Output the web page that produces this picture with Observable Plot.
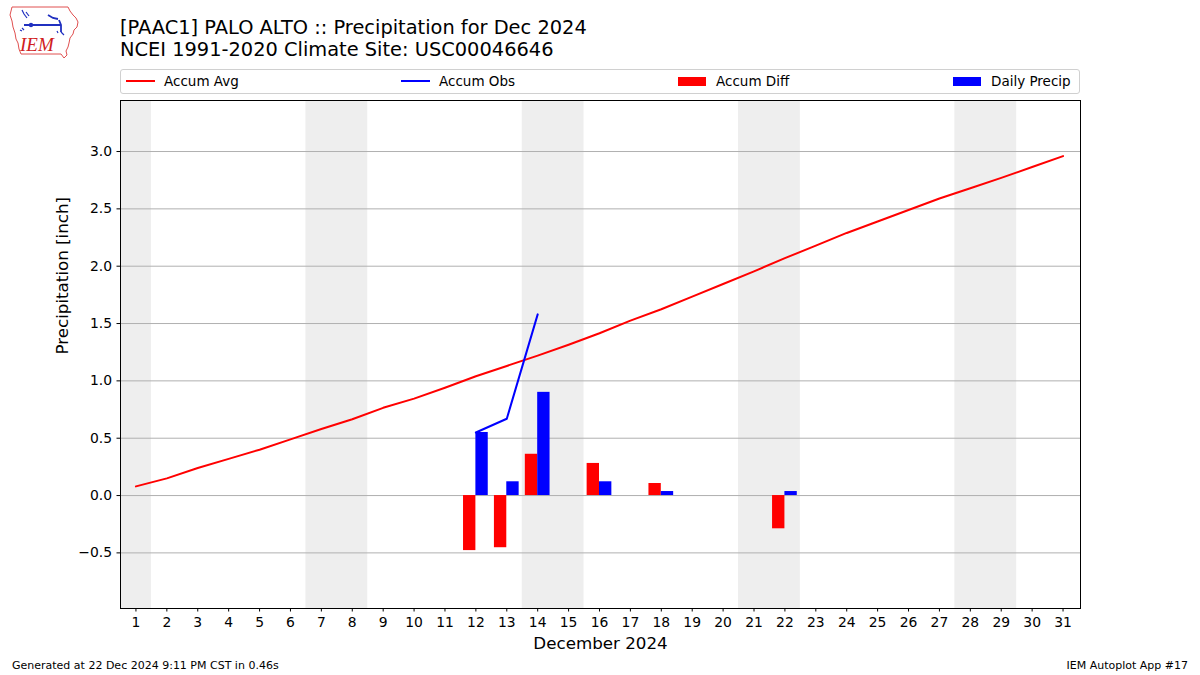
<!DOCTYPE html>
<html>
<head>
<meta charset="utf-8">
<script src="https://cdn.jsdelivr.net/npm/d3@7"></script>
<script src="https://cdn.jsdelivr.net/npm/@observablehq/plot@0.6"></script>
<style>
  html, body { margin: 0; padding: 0; background: #fff; }
  #wrap { position: relative; width: 1200px; height: 675px; overflow: hidden; font-family: "DejaVu Sans", sans-serif; color: #000; }
  #chart { position: absolute; left: 0; top: 0; }
  .title { position: absolute; left: 120px; top: 17px; font-size: 19.4px; line-height: 22px; white-space: nowrap; }
  #legend { position: absolute; left: 120px; top: 69px; width: 960px; height: 25px; border: 1px solid #d0d0d0; border-radius: 3px; font-size: 13.5px; box-sizing: border-box; }
  .li { position: absolute; top: 3px; white-space: nowrap; line-height: 16px; }
  .sw-line { display: inline-block; width: 29px; height: 2px; vertical-align: middle; margin-right: 9px; margin-top: -2px; }
  .sw-rect { display: inline-block; width: 28px; height: 9px; vertical-align: middle; margin-right: 10px; margin-top: -2px; }
  .foot { position: absolute; top: 659px; font-size: 11px; white-space: nowrap; }
  #logo { position: absolute; left: 6px; top: 2px; }
</style>
</head>
<body>
<div id="wrap">
  <div id="chart"></div>
  <svg id="logo" width="78" height="58" viewBox="0 0 78 58">
    <path d="M6,5 L62,5 L64,9 L67,13 L70,16 L72,20 L71,25 L68,28 L67,32 L64,36 L63,41 L62,45 L60,49 L61,53 L58,56 L55,52 L15,52 L13,47 L12,41 L10,37 L9,31 L7,25 L6,19 L4,13 Z" fill="none" stroke="#e05050" stroke-width="1"/>
    <path d="M16,8 L18,12 L21,16 M20,10 L23,14" stroke="#2030c0" stroke-width="1.2" fill="none"/>
    <circle cx="25" cy="23" r="2.2" fill="#2030c0"/>
    <path d="M18,23 L55,23 M53,18 L55,23 L55,30 M42,13 L47,16 L52,17" stroke="#2030c0" stroke-width="1.8" fill="none"/>
    <path d="M16,26 L18,28 M14,28 L16,29 M55,30 L58,33 M51,29 L52,31" stroke="#2030c0" stroke-width="1.2" fill="none"/>
    <text x="14" y="49" font-family="Liberation Serif, serif" font-style="italic" font-size="19" fill="#d02020">IEM</text>
  </svg>
  <div class="title">[PAAC1] PALO ALTO :: Precipitation for Dec 2024<br>NCEI 1991-2020 Climate Site: USC00046646</div>
  <div id="legend">
    <div class="li" style="left:5px"><span class="sw-line" style="background:#ff0000"></span>Accum Avg</div>
    <div class="li" style="left:280px"><span class="sw-line" style="background:#0000ff"></span>Accum Obs</div>
    <div class="li" style="left:557px"><span class="sw-rect" style="background:#ff0000"></span>Accum Diff</div>
    <div class="li" style="left:832px"><span class="sw-rect" style="background:#0000ff"></span>Daily Precip</div>
  </div>
  <div class="foot" style="left:12px">Generated at 22 Dec 2024 9:11 PM CST in 0.46s</div>
  <div class="foot" style="right:12px">IEM Autoplot App #17</div>
</div>
<script>
// ---- data ----
const days = [1,2,3,4,5,6,7,8,9,10,11,12,13,14,15,16,17,18,19,20,21,22,23,24,25,26,27,28,29,30,31];
const accumAvg = [0.08,0.15,0.24,0.32,0.40,0.49,0.58,0.665,0.765,0.845,0.94,1.04,1.13,1.22,1.315,1.415,1.525,1.625,1.735,1.845,1.955,2.07,2.18,2.29,2.39,2.49,2.59,2.68,2.77,2.865,2.96];
const obsDays = [12,13,14];
const accumObs = [0.55,0.67,1.58];
const barDays = [12,13,14,16,18,22];
const accumDiff = [-0.48,-0.455,0.36,0.28,0.105,-0.29];
const dailyPrecip = [0.55,0.12,0.90,0.12,0.035,0.035];
const weekendDays = [1,7,8,14,15,21,22,28,29];
const yTicks = [-0.5,0,0.5,1.0,1.5,2.0,2.5,3.0];

// ---- tables ----
const avgRows = days.map((d,i) => ({day: d, v: accumAvg[i]}));
const obsRows = obsDays.map((d,i) => ({day: d, v: accumObs[i]}));
const diffRows = barDays.map((d,i) => ({day: d, v: accumDiff[i]}));
const precipRows = barDays.map((d,i) => ({day: d, v: dailyPrecip[i]}));
// merge consecutive weekend days into spans (avoids seams)
const weekendSpans = [];
for (const d of weekendDays) {
  const last = weekendSpans[weekendSpans.length - 1];
  if (last && last.end === d - 1) last.end = d;
  else weekendSpans.push({start: d, end: d});
}

const fmt = v => (v < 0 ? "\u2212" : "") + Math.abs(v).toFixed(1);

const chart = Plot.plot({
  width: 1200,
  height: 675,
  marginTop: 100,
  marginBottom: 67,
  marginLeft: 120,
  marginRight: 120,
  style: {fontFamily: "DejaVu Sans, sans-serif", fontSize: "13.9px", color: "#000", background: "transparent"},
  x: {type: "linear", domain: [0.5, 31.565]},
  y: {domain: [-0.985, 3.445]},
  marks: [
    Plot.rect(weekendSpans, {x1: d => d.start - 0.5, x2: d => d.end + 0.5, fill: "#eeeeee"}),
    Plot.gridY(yTicks, {stroke: "#b0b0b0", strokeOpacity: 1, strokeWidth: 1}),
    Plot.rectY(diffRows, {x1: d => d.day - 0.4, x2: d => d.day, y1: 0, y2: "v", fill: "#ff0000"}),
    Plot.rectY(precipRows, {x1: d => d.day, x2: d => d.day + 0.4, y1: 0, y2: "v", fill: "#0000ff"}),
    Plot.line(avgRows, {x: "day", y: "v", stroke: "#ff0000", strokeWidth: 2}),
    Plot.line(obsRows, {x: "day", y: "v", stroke: "#0000ff", strokeWidth: 2}),
    Plot.frame({stroke: "#000", strokeWidth: 1}),
    Plot.axisX({ticks: days, tickFormat: d => String(d), tickSize: 3.5, tickPadding: 5, label: null}),
    Plot.axisY({ticks: yTicks, tickFormat: fmt, tickSize: 3.5, tickPadding: 5, label: null}),
    Plot.text(["December 2024"], {frameAnchor: "bottom", dy: 40, fontSize: 16.7}),
    Plot.text(["Precipitation [inch]"], {frameAnchor: "left", rotate: -90, dx: -58, fontSize: 16.7})
  ]
});
document.getElementById("chart").appendChild(chart);
</script>
</body>
</html>
